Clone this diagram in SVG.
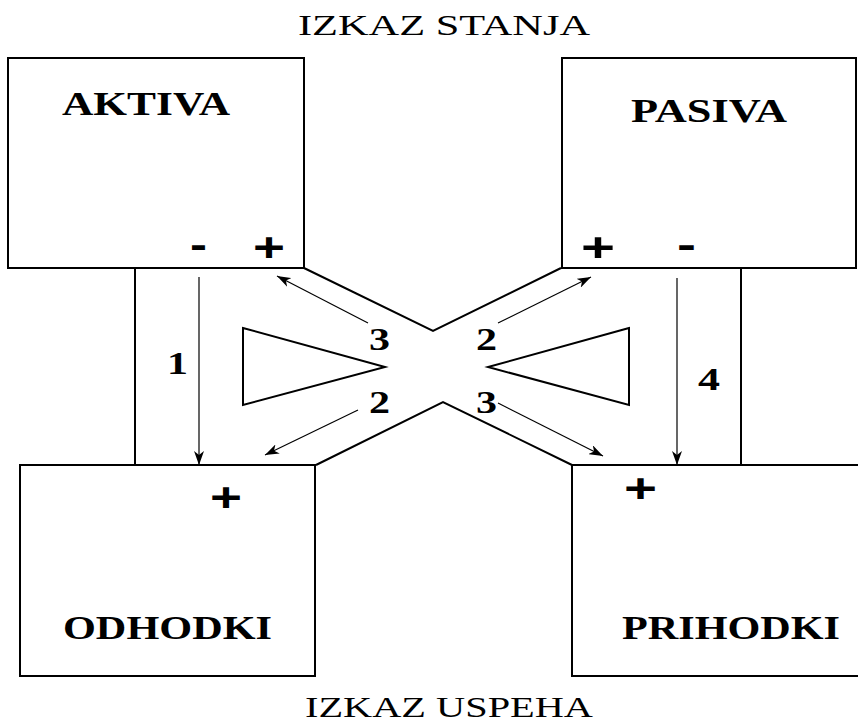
<svg xmlns="http://www.w3.org/2000/svg" width="858" height="727" viewBox="0 0 858 727">
<style>
.box{fill:#fff;stroke:#000;stroke-width:2}
.ln{fill:none;stroke:#000;stroke-width:2}
.ar{fill:none;stroke:#000;stroke-width:1.2;marker-end:url(#ah)}
.tri{fill:#fff;stroke:#000;stroke-width:2}
.title{font-family:"Liberation Serif","Times New Roman",serif;font-size:30px;fill:#000}
.name{font-family:"Liberation Serif","Times New Roman",serif;font-size:33px;font-weight:bold;fill:#000}
.num{font-family:"Liberation Serif","Times New Roman",serif;font-size:32px;font-weight:bold;fill:#000}
.sign{font-family:"Liberation Sans",Arial,sans-serif;font-size:40px;font-weight:bold;fill:#000}
</style>
<defs>
<marker id="ah" markerUnits="userSpaceOnUse" markerWidth="15" markerHeight="10" refX="14" refY="5" orient="auto">
<path d="M0,0 L14,5 L0,10 L4,5 z" fill="#000"/>
</marker>
</defs>
<rect width="858" height="727" fill="#fff"/>
<text class="title" x="298" y="35" textLength="292" lengthAdjust="spacingAndGlyphs">IZKAZ STANJA</text>
<text class="title" x="305" y="717" textLength="288" lengthAdjust="spacingAndGlyphs">IZKAZ USPEHA</text>
<g id="connectors">
<line class="ln" x1="135" y1="268" x2="135" y2="465"/>
<line class="ln" x1="741" y1="268" x2="741" y2="465"/>
<polyline class="ln" points="304,268 433,331 561,268"/>
<polyline class="ln" points="316,465 443,402 572,465"/>
<line class="ar" x1="199" y1="277" x2="199" y2="465"/>
<line class="ar" x1="677" y1="278" x2="677" y2="465"/>
<line class="ar" x1="368" y1="323" x2="277" y2="276"/>
<line class="ar" x1="498" y1="323" x2="591" y2="277"/>
<line class="ar" x1="358" y1="410" x2="265" y2="455"/>
<line class="ar" x1="498" y1="403" x2="603" y2="456"/>
<polygon class="tri" points="243,328 385,367 243,405"/>
<polygon class="tri" points="629,328 488,367 629,405"/>
<text class="num" x="369" y="350" textLength="21" lengthAdjust="spacingAndGlyphs">3</text>
<text class="num" x="476" y="350" textLength="21" lengthAdjust="spacingAndGlyphs">2</text>
<text class="num" x="369" y="413" textLength="21" lengthAdjust="spacingAndGlyphs">2</text>
<text class="num" x="476" y="413" textLength="21" lengthAdjust="spacingAndGlyphs">3</text>
<text class="num" x="167" y="374" textLength="21" lengthAdjust="spacingAndGlyphs">1</text>
<text class="num" x="698" y="390" textLength="22" lengthAdjust="spacingAndGlyphs">4</text>
</g>
<g id="aktiva">
<rect class="box" x="8" y="58" width="296" height="210"/>
<text class="name" x="62" y="115" textLength="168" lengthAdjust="spacingAndGlyphs">AKTIVA</text>
<text class="sign" x="190" y="258" textLength="17" lengthAdjust="spacingAndGlyphs">-</text>
<text class="sign" x="253" y="261" textLength="32" lengthAdjust="spacingAndGlyphs">+</text>
</g>
<g id="pasiva">
<rect class="box" x="562" y="58" width="294" height="210"/>
<text class="name" x="631" y="122" textLength="156" lengthAdjust="spacingAndGlyphs">PASIVA</text>
<text class="sign" x="581" y="261" textLength="34" lengthAdjust="spacingAndGlyphs">+</text>
<text class="sign" x="677" y="258" textLength="19" lengthAdjust="spacingAndGlyphs">-</text>
</g>
<g id="odhodki">
<rect class="box" x="20" y="465" width="295" height="211"/>
<text class="sign" x="210" y="511" textLength="32" lengthAdjust="spacingAndGlyphs">+</text>
<text class="name" x="63" y="639" textLength="209" lengthAdjust="spacingAndGlyphs">ODHODKI</text>
</g>
<g id="prihodki">
<rect class="box" x="572" y="465" width="292" height="211"/>
<text class="sign" x="624" y="502" textLength="33" lengthAdjust="spacingAndGlyphs">+</text>
<text class="name" x="622" y="639" textLength="218" lengthAdjust="spacingAndGlyphs">PRIHODKI</text>
</g>
</svg>
